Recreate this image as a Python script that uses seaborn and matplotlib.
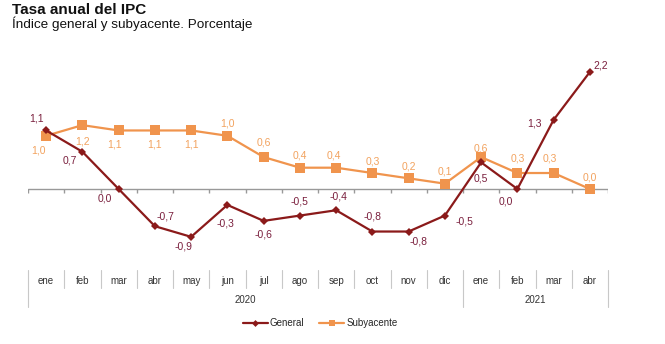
import matplotlib
matplotlib.use("Agg")
import matplotlib.pyplot as plt
import matplotlib.transforms as mtrans
from matplotlib.lines import Line2D
import seaborn as sns
import pandas as pd

months = ["ene", "feb", "mar", "abr", "may", "jun", "jul", "ago", "sep", "oct", "nov", "dic",
          "ene", "feb", "mar", "abr"]
years = ["2020", "2021"]
year_spans = [(0, 11), (12, 15)]
general = [1.1, 0.7, 0.0, -0.7, -0.9, -0.3, -0.6, -0.5, -0.4, -0.8, -0.8, -0.5, 0.5, 0.0, 1.3, 2.2]
subyacente = [1.0, 1.2, 1.1, 1.1, 1.1, 1.0, 0.6, 0.4, 0.4, 0.3, 0.2, 0.1, 0.6, 0.3, 0.3, 0.0]

# label offsets (pixels) - styling only
gen_off = [(-10, 12), (-13, -9), (-14, -10), (11, 10), (-8, -10), (-2, -19), (0, -14), (0, 14),
           (2, 14), (0, 15), (10, -10), (20, -6), (0, -16), (-12, -13), (-19, -4), (11, 6)]
sub_off = [(-8, -15), (0, -16), (-4, -14), (0, -14), (0, -14), (0, 12), (0, 15), (0, 12),
           (-2, 12), (0, 12), (0, 12), (0, 12), (0, 9), (0, 15), (-4, 15), (0, 11)]

C_GEN = "#8B1A1A"
C_SUB = "#F0944D"
C_GEN_TXT = "#7A1F3D"
C_SUB_TXT = "#F2A25E"

sns.set_theme(style="white")
plt.rcParams["font.family"] = ["Liberation Sans", "DejaVu Sans"]

n = len(months)
df = pd.DataFrame({
    "idx": list(range(n)) * 2,
    "valor": general + subyacente,
    "serie": ["General"] * n + ["Subyacente"] * n,
})

W, H = 665, 344
fig = plt.figure(figsize=(W / 100, H / 100), dpi=100)
ax = fig.add_axes([28 / W, 1 - 252.8 / H, 580 / W, (252.8 - 56) / H])

sns.lineplot(data=df[df.serie == "General"], x="idx", y="valor", ax=ax, color=C_GEN,
             marker="D", markersize=4.5, markeredgewidth=0, linewidth=1.6, legend=False)
sns.lineplot(data=df[df.serie == "Subyacente"], x="idx", y="valor", ax=ax, color=C_SUB,
             marker="s", markersize=6.5, markeredgewidth=0, linewidth=1.6, legend=False)
ax.lines[0].set_zorder(4)
ax.lines[1].set_zorder(3)

ax.set_xlim(-0.5, n - 0.5)
ax.set_ylim(-1.2, 2.5)
for s in ax.spines.values():
    s.set_visible(False)
ax.set_xticks([])
ax.set_yticks([])
ax.set_xlabel("")
ax.set_ylabel("")

ax.axhline(0, color="#999999", linewidth=1.0, zorder=1)
bounds = [i - 0.5 for i in range(n + 1)]
ax.vlines(bounds, -0.075, 0, color="#999999", linewidth=1.0, zorder=1)

def fmt(v):
    return f"{v:.1f}".replace(".", ",")

for i, v in enumerate(general):
    ax.annotate(fmt(v), (i, v), xytext=gen_off[i], textcoords="offset pixels",
                ha="center", va="center", fontsize=7.5, color=C_GEN_TXT, zorder=6)
for i, v in enumerate(subyacente):
    ax.annotate(fmt(v), (i, v), xytext=sub_off[i], textcoords="offset pixels",
                ha="center", va="center", fontsize=7.5, color=C_SUB_TXT, zorder=6)

# category table below
tr = mtrans.blended_transform_factory(ax.transData, fig.transFigure)
def fy(p):
    return 1 - p / H
for b in bounds:
    full = b in (-0.5, 11.5, n - 0.5)
    ax.plot([b, b], [fy(270), fy(307 if full else 288)], transform=tr, color="#C8C8C8",
            linewidth=0.8, clip_on=False)
for i, m in enumerate(months):
    ax.text(i, fy(281), m, transform=tr, ha="center", va="center", fontsize=7, color="#333333")
for yl, (a, b) in zip(years, year_spans):
    ax.text((a + b) / 2, fy(300), yl, transform=tr, ha="center", va="center", fontsize=7,
            color="#333333")

fig.text(12 / W, fy(10), "Tasa anual del IPC", fontsize=11, fontweight="bold",
         ha="left", va="center", color="#111111")
fig.text(12 / W, fy(24), "Índice general y subyacente. Porcentaje", fontsize=9.7,
         ha="left", va="center", color="#111111")

handles = [
    Line2D([], [], color=C_GEN, marker="D", markersize=3.5, markeredgewidth=0, linewidth=1.6),
    Line2D([], [], color=C_SUB, marker="s", markersize=5, markeredgewidth=0, linewidth=1.6),
]
fig.legend(handles, ["General", "Subyacente"], loc="center", bbox_to_anchor=(320 / W, fy(323)),
           ncol=2, frameon=False, fontsize=7, handlelength=2.6, handletextpad=0.2,
           columnspacing=1.5)

fig.savefig("out.png", dpi=100)
